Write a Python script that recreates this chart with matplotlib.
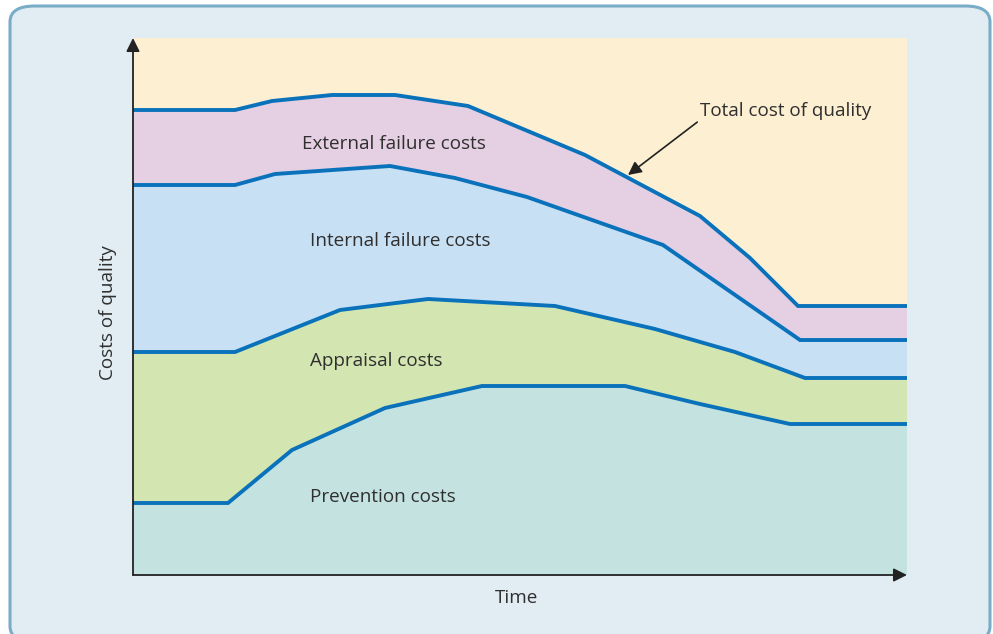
import numpy as np
import matplotlib
matplotlib.use("Agg")
import matplotlib.pyplot as plt
from matplotlib.patches import FancyBboxPatch

plt.rcParams['font.family'] = ['Open Sans', 'DejaVu Sans']

# boundaries between the stacked cost bands (time, cumulative cost)
prevention_x = [0, 95, 159, 252, 349, 492, 567, 657, 774]
prevention_y = [72, 72, 125, 167, 189, 189, 171, 151, 151]

appraisal_x = [0, 102, 207, 295, 422, 522, 602, 672, 774]
appraisal_y = [223, 223, 265, 276, 269, 246, 223, 197, 197]

internal_x = [0, 102, 142, 257, 322, 394, 530, 667, 774]
internal_y = [390, 390, 401, 409, 397, 378, 330, 235, 235]

total_x = [0, 102, 139, 199, 262, 335, 452, 567, 617, 665, 774]
total_y = [465, 465, 474, 480, 480, 469, 420, 359, 317, 269, 269]

band_labels = ['Prevention costs', 'Appraisal costs',
               'Internal failure costs', 'External failure costs']
band_label_pos = [(177, 78), (177, 214), (177, 334), (169, 431)]

x_max, y_max = 774, 537

line_col = '#0a72bb'
text_col = '#2f2f2f'
fs = 13.6

fig = plt.figure(figsize=(9.93, 6.34), dpi=100)
fig.patch.set_facecolor('white')

frame = FancyBboxPatch((10 / 993, -8 / 634), 980 / 993, 636 / 634,
                       boxstyle='round,pad=0,rounding_size=0.025',
                       transform=fig.transFigure, facecolor='#e1ecf3',
                       edgecolor='#79adc7', linewidth=2.2, zorder=-5)
fig.patches.append(frame)

ax = fig.add_axes([133 / 993, 59 / 634, 774 / 993, 537 / 634])
ax.set_zorder(3)
ax.set_xlim(0, x_max)
ax.set_ylim(0, y_max)
ax.patch.set_alpha(0)

def band(ax, lx, ly, ux, uy, color):
    xs = np.concatenate([lx, ux[::-1]])
    ys = np.concatenate([ly, uy[::-1]])
    ax.fill(xs, ys, color=color, lw=0, zorder=1)

band(ax, [0, x_max], [0, 0], prevention_x, prevention_y, '#c4e2e0')
band(ax, prevention_x, prevention_y, appraisal_x, appraisal_y, '#d3e5b1')
band(ax, appraisal_x, appraisal_y, internal_x, internal_y, '#c8e0f3')
band(ax, internal_x, internal_y, total_x, total_y, '#e5cfe3')
band(ax, total_x, total_y, [0, x_max], [y_max, y_max], '#fdefd1')

for xs, ys in [(prevention_x, prevention_y), (appraisal_x, appraisal_y),
               (internal_x, internal_y), (total_x, total_y)]:
    ax.plot(xs, ys, color=line_col, lw=2.8, solid_capstyle='butt',
            solid_joinstyle='miter', zorder=3)

for lab, (lx, ly) in zip(band_labels, band_label_pos):
    ax.text(lx, ly, lab, fontsize=fs, color=text_col, va='center',
            ha='left', zorder=4)

ax.annotate('Total cost of quality', xy=(495, 400), xytext=(567, 464),
            fontsize=fs, color=text_col, va='center', ha='left',
            arrowprops=dict(arrowstyle='-|>', color='#222222', lw=1.2,
                            mutation_scale=20, shrinkA=0, shrinkB=0,
                            relpos=(0, 0.0)),
            zorder=5)

# axes drawn as arrows
for s in ax.spines.values():
    s.set_visible(False)
ax.set_xticks([])
ax.set_yticks([])
ax.annotate('', xy=(0, 1.0), xytext=(0, 0), xycoords='axes fraction',
            arrowprops=dict(arrowstyle='-|>', color='#222222', lw=1.3,
                            mutation_scale=20, shrinkA=0, shrinkB=0),
            zorder=6, annotation_clip=False)
ax.annotate('', xy=(1.0, 0), xytext=(0, 0), xycoords='axes fraction',
            arrowprops=dict(arrowstyle='-|>', color='#222222', lw=1.3,
                            mutation_scale=20, shrinkA=0, shrinkB=0),
            zorder=6, annotation_clip=False)

fig.text(108 / 993, 1 - 313 / 634, 'Costs of quality', rotation=90,
         fontsize=fs, color=text_col, ha='center', va='center')
fig.text(517 / 993, 1 - 598 / 634, 'Time', fontsize=fs, color=text_col,
         ha='center', va='center')

fig.savefig('out.png', dpi=100)
